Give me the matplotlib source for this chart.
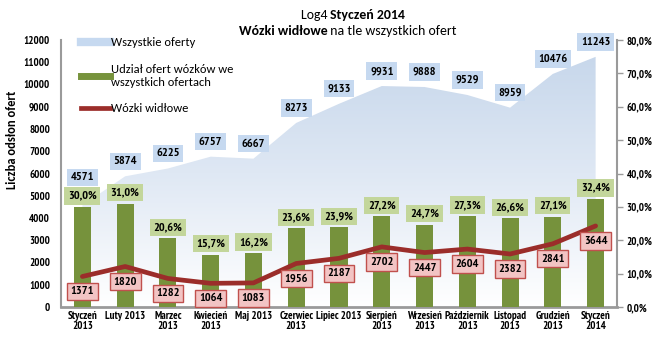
import numpy as np
import matplotlib
matplotlib.use("Agg")
import matplotlib.pyplot as plt
from matplotlib.lines import Line2D
from matplotlib.colors import LinearSegmentedColormap

categories = ["Styczeń\n2013", "Luty 2013", "Marzec\n2013", "Kwiecień\n2013", "Maj 2013",
              "Czerwiec\n2013", "Lipiec 2013", "Sierpień\n2013", "Wrzesień\n2013",
              "Październik\n2013", "Listopad\n2013", "Grudzień\n2013", "Styczeń\n2014"]
total_offers = [4571, 5874, 6225, 6757, 6667, 8273, 9133, 9931, 9888, 9529, 8959, 10476, 11243]
share_pct = [30.0, 31.0, 20.6, 15.7, 16.2, 23.6, 23.9, 27.2, 24.7, 27.3, 26.6, 27.1, 32.4]
forklift = [1371, 1820, 1282, 1064, 1083, 1956, 2187, 2702, 2447, 2604, 2382, 2841, 3644]
left_ticks = list(range(0, 12001, 1000))
right_ticks = list(range(0, 81, 10))

W, H = 661, 353
fig = plt.figure(figsize=(W / 100, H / 100), dpi=100)
ax = fig.add_axes([61 / W, (H - 307) / H, 556 / W, 267 / H])
ax2 = ax.twinx()

x = np.arange(len(categories))
ax.set_xlim(-0.5, len(categories) - 0.5)
ax.set_ylim(0, 12000)
ax2.set_ylim(0, 80)

NARROW = "PT Sans Narrow"
tick_font = dict(family=NARROW, weight="bold", size=7.8)
lab_font = dict(family=NARROW, weight="bold", size=8.8)

# area with gradient
coll = ax.fill_between(x, total_offers, 0, facecolor="none", edgecolor="none", zorder=1)
cmap = LinearSegmentedColormap.from_list("g", ["#ffffff", "#dfe8f4", "#c4d5ea"])
grad = np.linspace(0, 1, 256).reshape(-1, 1)
im = ax.imshow(grad, extent=[-0.5, len(categories) - 0.5, 0, 12000], origin="lower",
               aspect="auto", cmap=cmap, zorder=1)
im.set_clip_path(coll.get_paths()[0], ax.transData)

# bars on right axis
ax2.bar(x, share_pct, width=0.4, color="#76923c", zorder=2)

# line (left scale)
ax2.plot(x, forklift, color="#9b2d2a", lw=3.4, solid_joinstyle="round",
         solid_capstyle="round", transform=ax.transData, zorder=3)

# labels
total_off = [28] + [15] * (len(categories) - 1)
for xi, v, off in zip(x, total_offers, total_off):
    ax2.annotate(f"{v}", (xi, v), xycoords=ax.transData, xytext=(0, off),
                 textcoords="offset pixels", ha="center", va="center", **lab_font,
                 bbox=dict(boxstyle="square,pad=0.3", fc="#c6d9f0", ec="none"), zorder=5)
for xi, v in zip(x, share_pct):
    ax2.annotate(f"{v:.1f}%".replace(".", ","), (xi, v), xytext=(0, 11),
                 textcoords="offset pixels", ha="center", va="center", **lab_font,
                 bbox=dict(boxstyle="square,pad=0.3", fc="#c3d69b", ec="none"), zorder=5)
for xi, v in zip(x, forklift):
    ax2.annotate(f"{v}", (xi, v), xycoords=ax.transData, xytext=(0, -15),
                 textcoords="offset pixels", ha="center", va="center", **lab_font,
                 bbox=dict(boxstyle="square,pad=0.3", fc="#f2c4c4", ec="#c0504d", lw=1.0),
                 zorder=5)

# axes styling
for a in (ax, ax2):
    a.spines["top"].set_visible(False)
ax.spines["right"].set_visible(False)
ax2.spines["left"].set_visible(False)
ax2.spines["bottom"].set_visible(False)
ax.spines["left"].set_color("#9a9a9a")
ax.spines["left"].set_linewidth(1.5)
ax.spines["bottom"].set_color("#9a9a9a")
ax.spines["bottom"].set_linewidth(2)
ax2.spines["right"].set_color("#9a9a9a")
ax2.spines["right"].set_linewidth(1.5)

ax.set_yticks(left_ticks)
ax.set_yticklabels([str(t) for t in left_ticks], **tick_font)
ax.tick_params(axis="y", length=0, pad=8)
ax2.set_yticks(right_ticks)
ax2.set_yticklabels([f"{t:.1f}%".replace(".", ",") for t in right_ticks], **tick_font)
ax2.tick_params(axis="y", length=4, width=1, color="#9a9a9a", pad=3)
ax.set_xticks(x)
ax.set_xticklabels(categories, linespacing=1.0, **tick_font)
ax.tick_params(axis="x", length=0, pad=3)

fig.text(12 / W, 1 - 140 / H, "Liczba odsłon ofert", rotation=90, ha="center", va="center",
         family="Carlito", fontweight="bold", fontsize=9)

# title
fig.text(0.5, 1 - 15 / H, "Log4 ", ha="right", va="center", fontsize=10, family="Carlito")
fig.text(0.5, 1 - 15 / H, "Styczeń 2014", ha="left", va="center", fontsize=10,
         family="Carlito", fontweight="bold")
fig.text(0.495, 1 - 31 / H, "Wózki widłowe", ha="right", va="center", fontsize=10,
         family="Carlito", fontweight="bold")
fig.text(0.495, 1 - 31 / H, " na tle wszystkich ofert", ha="left", va="center",
         fontsize=10, family="Carlito")

handles = [Line2D([], [], color="#c6d9f0", lw=6),
           Line2D([], [], color="#77933c", lw=5),
           Line2D([], [], color="#9b2d2a", lw=3.4)]
labels = ["Wszystkie oferty", "Udział ofert wózków we\nwszystkich ofertach", "Wózki widłowe"]
ax2.legend(handles, labels, loc="upper left", bbox_to_anchor=(70 / W, 1 - 26 / H),
           bbox_transform=fig.transFigure, frameon=False, handlelength=2.3,
           handletextpad=0.1, labelspacing=1.25, prop=dict(family="Carlito", size=9))

fig.savefig("out.png", dpi=100)
